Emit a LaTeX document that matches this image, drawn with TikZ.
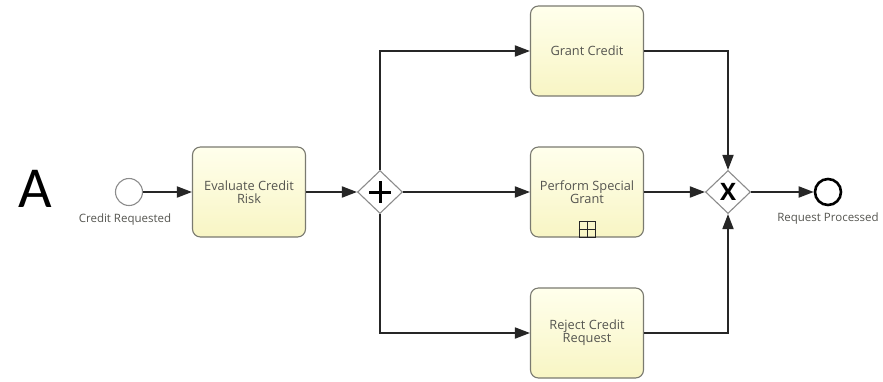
\documentclass[tikz,border=0pt]{standalone}
\usepackage{fontspec}
\setsansfont{Open Sans}
\newfontfamily\panelfont{Carlito}
\usetikzlibrary{arrows.meta, shapes.geometric}
\definecolor{task-fill}{HTML}{FFFFEC}
\definecolor{task-shade}{HTML}{F8F5C4}
\definecolor{task-border}{HTML}{7A7A70}
\definecolor{label-grey}{HTML}{555550}
\definecolor{flow-black}{HTML}{262626}
\definecolor{gate-grey}{HTML}{8C8C8C}

\begin{document}
\begin{tikzpicture}[x=1pt, y=-1pt,
    task/.style={rectangle, rounded corners=8pt, draw=task-border, line width=1.1pt,
      top color=task-fill, bottom color=task-shade, minimum width=113pt, minimum height=90pt,
      align=center, text=label-grey, font=\sffamily\fontsize{12.8}{13}\selectfont},
    gateway/.style={diamond, draw=gate-grey, line width=1.1pt, fill=white,
      minimum width=45pt, minimum height=43pt, inner sep=0pt},
    event/.style={circle, draw=gate-grey, line width=1.1pt, minimum size=27pt, inner sep=0pt},
    evlabel/.style={text=label-grey, font=\sffamily\fontsize{11.5}{12}\selectfont},
    flow/.style={draw=flow-black, line width=1.8pt, -{Triangle[length=15pt, width=11pt]}}]
    \useasboundingbox[fill=white] (0, 0) rectangle (883, 381);

    % events, tasks and gateways
    \node[font=\panelfont\fontsize{58}{58}\selectfont] (panel) at (35, 189) {A};
    \node[event] (start) at (129, 192) {};
    \node[evlabel] (startlabel) at (125, 220) {Credit Requested};
    \node[task] (evaluate) at (249, 192) {Evaluate Credit\\Risk};
    \node[gateway] (fork) at (380, 192) {};
    \node[task] (grant) at (587, 51) {Grant Credit};
    \node[task] (special) at (587, 192) {Perform Special\\Grant};
    \node[task] (reject) at (587, 333) {Reject Credit\\Request};
    \node[gateway, font=\sffamily\bfseries\fontsize{24}{24}\selectfont] (join) at (728, 192) {X};
    \node[event, draw=black, line width=2.6pt, minimum size=26pt] (stop) at (828, 192) {};
    \node[evlabel] (stoplabel) at (828, 219) {Request Processed};

    % parallel marker
    \draw[line width=3pt, black] ([yshift=11pt]fork.center) -- ([yshift=-11pt]fork.center);
    \draw[line width=3pt, black] ([xshift=-11pt]fork.center) -- ([xshift=11pt]fork.center);

    % sub-process marker
    \node[draw=flow-black, line width=0.9pt, minimum size=16pt, inner sep=0pt] (expand) at (587, 229) {};
    \draw[flow-black, line width=0.9pt] (expand.north) -- (expand.south);
    \draw[flow-black, line width=0.9pt] (expand.west) -- (expand.east);

    % sequence flows
    \draw[flow] (start) -- (evaluate);
    \draw[flow] (evaluate) -- (fork);
    \draw[flow] (fork.north) |- (grant);
    \draw[flow] (fork) -- (special);
    \draw[flow] (fork.south) |- (reject);
    \draw[flow] (grant) -| (join.north);
    \draw[flow] (special) -- (join);
    \draw[flow] (reject) -| (join.south);
    \draw[flow] (join) -- (stop);
\end{tikzpicture}
\end{document}
